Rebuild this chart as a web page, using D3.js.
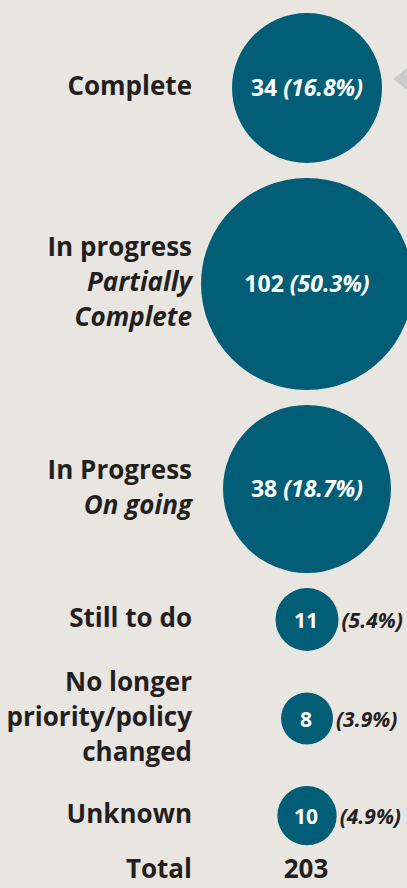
<!DOCTYPE html>
<html>
<head>
<meta charset="utf-8">
<script src="https://cdn.jsdelivr.net/npm/d3@7/dist/d3.min.js"></script>
<style>
  html, body { margin: 0; padding: 0; background: #e9e5e0; }
  svg { display: block; }
  text { font-family: "Open Sans", "Noto Sans", sans-serif; }
</style>
</head>
<body>
<svg id="chart" width="407" height="888"></svg>
<script>
// Recommendation status counts
const statusLines = [
  ["Complete"],
  ["In progress"],
  ["In Progress"],
  ["Still to do"],
  ["No longer", "priority/policy", "changed"],
  ["Unknown"]
];
const noteLines = [
  [],
  ["Partially", "Complete"],
  ["On going"],
  [],
  [],
  []
];
const counts = [34, 102, 38, 11, 8, 10];
const percents = [16.8, 50.3, 18.7, 5.4, 3.9, 4.9];
const totalLabel = "Total";
const totalCount = 203;

const W = 407, H = 888;
const svg = d3.select("#chart");
const teal = "#025e77";
const ink = "#231f20";

// bubble radius by count (hand-tuned bubble sizes)
const r = d3.scaleLinear()
  .domain([8, 11, 34, 38, 102])
  .range([26, 31.5, 75, 84, 106]);

const labelRight = 192;
const cx = 307;
const lineH = 35;
const gap = 15;

// stack rows vertically: each row takes the larger of its bubble and its label block
const rows = counts.map((c, i) => {
  const n = statusLines[i].length + noteLines[i].length;
  return {
    i, count: c, pct: percents[i],
    lines: statusLines[i].map(t => ({t, italic: false}))
      .concat(noteLines[i].map(t => ({t, italic: true}))),
    rad: r(c),
    half: Math.max(r(c), n * lineH / 2)
  };
});
const marginTop = 13;
rows.forEach((d, k) => {
  d.cy = k === 0 ? marginTop + d.half
    : rows[k - 1].cy + rows[k - 1].half + gap + d.half;
});

const fmt = d3.format(".1f");

// small pointer at the top right
const first = rows[0];
svg.append("path")
  .attr("d", d3.line()([
    [cx + first.rad + 11, first.cy - 9],
    [W, first.cy - 20],
    [W, first.cy + 2]
  ]) + "Z")
  .attr("fill", "#c9cbcd");

const g = svg.selectAll("g.row").data(rows).join("g").attr("class", "row");

// status labels, right aligned
g.each(function(d) {
  const n = d.lines.length;
  const t = d3.select(this).append("text")
    .attr("text-anchor", "end")
    .attr("font-size", 26)
    .attr("font-weight", 700)
    .attr("fill", ink);
  d.lines.forEach((ln, j) => {
    t.append("tspan")
      .attr("x", labelRight)
      .attr("y", d.cy + 7 + (j - (n - 1) / 2) * lineH)
      .attr("font-style", ln.italic ? "italic" : "normal")
      .text(ln.t);
  });
});

// bubbles
g.append("circle")
  .attr("cx", cx)
  .attr("cy", d => d.cy)
  .attr("r", d => d.rad)
  .attr("fill", teal);

// large bubbles carry count and share inside
const big = g.filter(d => d.rad > 50);
const bt = big.append("text")
  .attr("x", cx)
  .attr("y", d => d.cy + 8)
  .attr("text-anchor", "middle")
  .attr("font-size", 23)
  .attr("font-weight", 700)
  .attr("fill", "#fff");
bt.append("tspan").text(d => d.count + " ");
bt.append("tspan").attr("font-style", "italic").text(d => "(" + fmt(d.pct) + "%)");

// small bubbles: count inside, share to the right
const small = g.filter(d => d.rad <= 50);
small.append("text")
  .attr("x", cx - 1)
  .attr("y", d => d.cy + 8)
  .attr("text-anchor", "middle")
  .attr("font-size", 21)
  .attr("font-weight", 700)
  .attr("fill", "#fff")
  .text(d => d.count);
small.append("text")
  .attr("x", d => cx + d.rad + 3)
  .attr("y", d => d.cy + 8)
  .attr("font-size", 21)
  .attr("font-weight", 700)
  .attr("font-style", "italic")
  .attr("fill", ink)
  .text(d => "(" + fmt(d.pct) + "%)");

// total row
const last = rows[rows.length - 1];
const ty = last.cy + last.half + gap + lineH / 2;
svg.append("text")
  .attr("x", labelRight).attr("y", ty)
  .attr("text-anchor", "end")
  .attr("font-size", 26).attr("font-weight", 700).attr("fill", ink)
  .text(totalLabel);
svg.append("text")
  .attr("x", cx - 1).attr("y", ty)
  .attr("text-anchor", "middle")
  .attr("font-size", 26).attr("font-weight", 700).attr("fill", ink)
  .text(totalCount);
</script>
</body>
</html>
